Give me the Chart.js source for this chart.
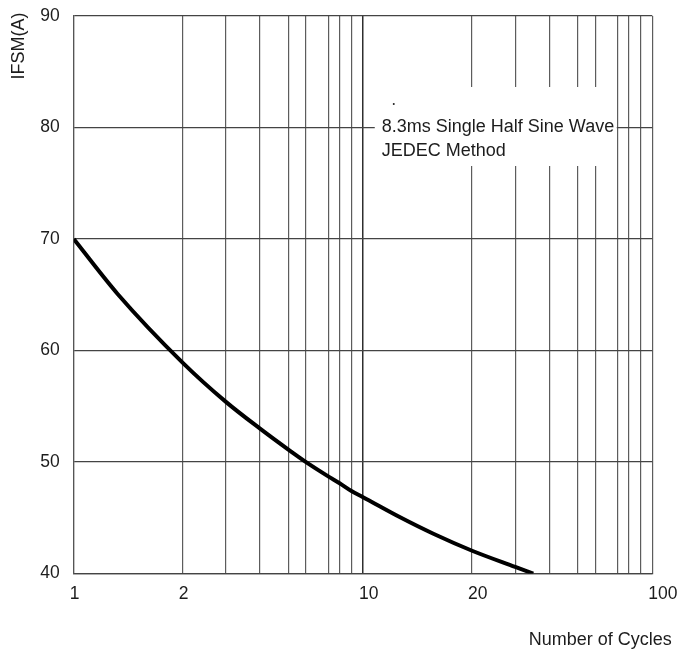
<!DOCTYPE html>
<html>
<head>
<meta charset="utf-8">
<title>IFSM vs Number of Cycles</title>
<script src="https://cdn.jsdelivr.net/npm/chart.js@4.4.1/dist/chart.umd.min.js"></script>
<style>
  html, body { margin: 0; padding: 0; background: #fff; }
  canvas { display: block; }
</style>
</head>
<body>
<canvas id="surgeChart" width="691" height="655"></canvas>
<script>
// values
const cycles = [1, 1.4, 2, 3, 4, 5, 6, 7, 8, 9, 10, 13.4, 16.5, 20, 30, 35.3];
const ifsm = [70, 65.1, 58.9, 55.4, 53.0, 51.1, 50.0, 48.7, 48.1, 47.4, 46.85, 45.05, 43.55, 42.05, 40.6, 40.0];

const gridCycles = [1, 2, 3, 4, 5, 6, 7, 8, 9, 10, 20, 30, 40, 50, 60, 70, 80, 90, 100];
const labeledCycles = [1, 2, 10, 20, 100];
const yTicks = [40, 50, 60, 70, 80, 90];

const xTitle = 'Number of Cycles';
const yTitle = 'IFSM(A)';
const noteLines = ['8.3ms Single Half Sine Wave', 'JEDEC Method'];

const FONT = "'Liberation Sans', Arial, sans-serif";
const INK = '#1c1c1c';

// the printed log paper is not exactly log10: position of 1..10 inside one decade
const decadeSpacing = [0, 0.377, 0.526, 0.644, 0.743, 0.803, 0.881, 0.919, 0.960, 1];

class CycleScale extends Chart.LogarithmicScale {
  buildTicks() {
    return gridCycles.map(v => ({ value: v, major: Math.log10(v) % 1 === 0 }));
  }
  _decimal(value) {
    const lo = Math.log10(this.min);
    const hi = Math.log10(this.max);
    let e = Math.floor(Math.log10(value) + 1e-9);
    let m = value / Math.pow(10, e);
    if (m >= 10) { e += 1; m /= 10; }
    const i = Math.min(Math.floor(m), 9);
    const f = decadeSpacing[i - 1] + (decadeSpacing[i] - decadeSpacing[i - 1]) * (m - i);
    return (e + f - lo) / (hi - lo);
  }
  getPixelForValue(value) {
    if (value === undefined || value === 0) value = this.min;
    if (value === null || isNaN(value)) return NaN;
    return this.getPixelForDecimal(this._decimal(value));
  }
  getValueForPixel(pixel) {
    const lo = Math.log10(this.min);
    const hi = Math.log10(this.max);
    const pos = lo + this.getDecimalForPixel(pixel) * (hi - lo);
    const e = Math.floor(pos);
    const f = pos - e;
    let i = 1;
    while (i < 9 && decadeSpacing[i] < f) i++;
    const m = i + (f - decadeSpacing[i - 1]) / (decadeSpacing[i] - decadeSpacing[i - 1]) - 1;
    return (m + 1) * Math.pow(10, e);
  }
}
CycleScale.id = 'cycleLog';
CycleScale.defaults = Chart.LogarithmicScale.defaults;
Chart.register(CycleScale);

const sheetText = {
  id: 'sheetText',
  afterDraw(chart) {
    const { ctx, chartArea: ca } = chart;
    ctx.save();

    // white label box cuts the grid
    ctx.fillStyle = '#fff';
    ctx.fillRect(ca.left + 301, ca.top + 71, 242, 79);
    ctx.fillStyle = INK;
    ctx.font = '18px ' + FONT;
    ctx.textAlign = 'left';
    ctx.textBaseline = 'alphabetic';
    ctx.fillText(noteLines[0], ca.left + 308, ca.top + 115.5);
    ctx.fillText(noteLines[1], ca.left + 308, ca.top + 140);
    ctx.beginPath();
    ctx.arc(ca.left + 320, ca.top + 88, 1, 0, Math.PI * 2);
    ctx.fill();

    // axis titles
    ctx.textAlign = 'right';
    ctx.fillText(xTitle, ca.right + 19.5, ca.bottom + 71.5);

    ctx.translate(24, 46);
    ctx.rotate(-Math.PI / 2);
    ctx.textAlign = 'center';
    ctx.fillText(yTitle, 0, 0);
    ctx.restore();
  }
};

const ctx = document.getElementById('surgeChart').getContext('2d');
new Chart(ctx, {
  type: 'line',
  data: {
    datasets: [{
      data: cycles.map((c, i) => ({ x: c, y: ifsm[i] })),
      borderColor: '#000',
      borderWidth: 4,
      pointRadius: 0,
      fill: false,
      cubicInterpolationMode: 'monotone'
    }]
  },
  options: {
    responsive: false,
    animation: false,
    layout: { padding: { left: 26.3, top: 16, right: 38.7, bottom: 40.4 } },
    plugins: {
      legend: { display: false },
      tooltip: { enabled: false }
    },
    scales: {
      x: {
        type: 'cycleLog',
        min: 1,
        max: 100,
        afterFit: axis => { axis.paddingRight = 0; },
        grid: {
          drawTicks: false,
          color: c => (c.tick && c.tick.value === 10 ? '#2e2e2e' : '#5c5c5c'),
          lineWidth: c => (c.tick && c.tick.value === 10 ? 1.5 : 1.2)
        },
        border: { color: '#444', width: 1.2 },
        ticks: {
          autoSkip: false,
          maxRotation: 0,
          align: 'start',
          labelOffset: -4,
          padding: 10,
          color: INK,
          font: { family: FONT, size: 17.5 },
          callback: v => (labeledCycles.includes(v) ? String(v) : '')
        }
      },
      y: {
        min: 40,
        max: 90,
        afterBuildTicks: axis => { axis.ticks = yTicks.map(v => ({ value: v })); },
        afterFit: axis => { axis.paddingTop = 0; },
        grid: { drawTicks: false, color: '#444', lineWidth: 1.2 },
        border: { color: '#555', width: 1.2 },
        ticks: {
          padding: 14,
          color: INK,
          font: { family: FONT, size: 17.5 }
        }
      }
    }
  },
  plugins: [sheetText]
});
</script>
</body>
</html>
